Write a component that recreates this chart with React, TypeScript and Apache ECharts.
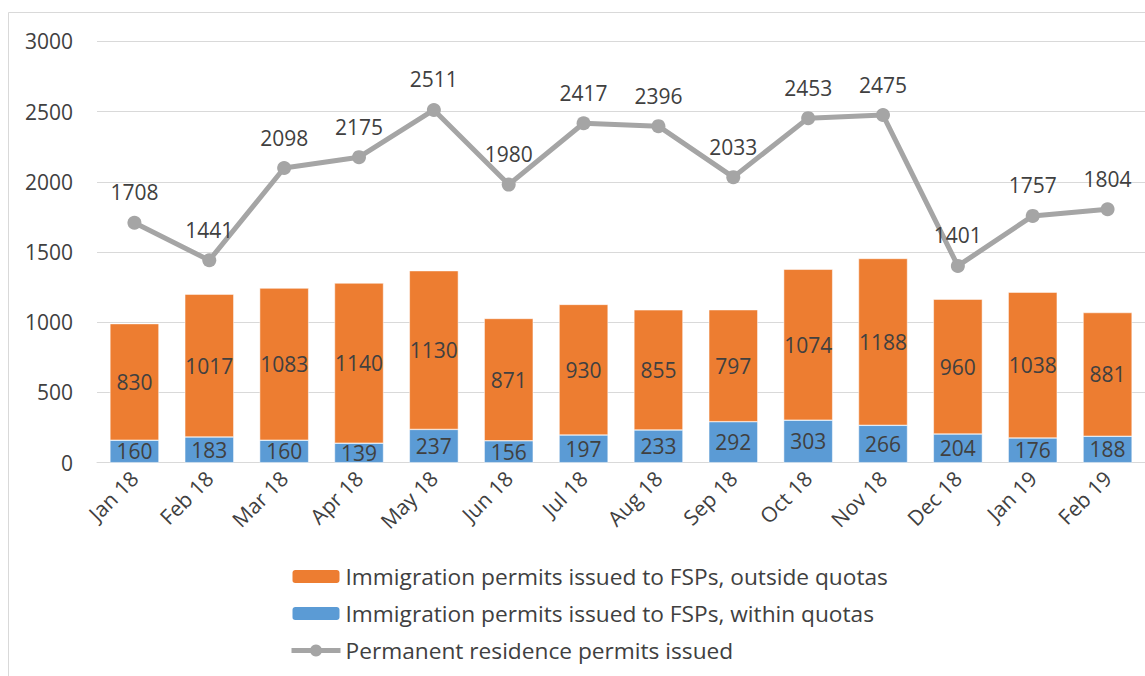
import React, { useEffect, useRef } from "react";
import * as echarts from "echarts";

const categories = ["Jan 18", "Feb 18", "Mar 18", "Apr 18", "May 18", "Jun 18", "Jul 18", "Aug 18", "Sep 18", "Oct 18", "Nov 18", "Dec 18", "Jan 19", "Feb 19"];
const withinQuotas = [160, 183, 160, 139, 237, 156, 197, 233, 292, 303, 266, 204, 176, 188];
const outsideQuotas = [830, 1017, 1083, 1140, 1130, 871, 930, 855, 797, 1074, 1188, 960, 1038, 881];
const permanentResidence = [1708, 1441, 2098, 2175, 2511, 1980, 2417, 2396, 2033, 2453, 2475, 1401, 1757, 1804];

const FONT = "Open Sans";
const TEXT = "#404040";

export default function App() {
  const ref = useRef<HTMLDivElement>(null);
  useEffect(() => {
    const chart = echarts.init(ref.current!, null, { renderer: "svg" });
    chart.setOption({
      animation: false,
      backgroundColor: "#ffffff",
      textStyle: { fontFamily: FONT, color: TEXT },
      graphic: [
        {
          type: "rect",
          shape: { x: 8.5, y: 12.5, width: 1200, height: 700 },
          style: { fill: "none", stroke: "#d9d9d9", lineWidth: 1 },
          silent: true,
          z: -10,
        },
      ],
      grid: { left: 97, right: 0, top: 41.3, bottom: 213.3 },
      legend: {
        orient: "vertical",
        left: 284,
        top: 560,
        itemWidth: 49,
        itemHeight: 15,
        itemGap: 14,
        data: [
          { name: "Immigration permits issued to FSPs, outside quotas" },
          { name: "Immigration permits issued to FSPs, within quotas" },
          { name: "Permanent residence permits issued", lineStyle: { width: 5 } },
        ],
        textStyle: { fontFamily: FONT, fontSize: 22.7, color: TEXT, lineHeight: 20 },
      },
      xAxis: {
        type: "category",
        data: categories,
        axisLine: { lineStyle: { color: "#d9d9d9", width: 1 } },
        axisTick: { show: false },
        axisLabel: { rotate: 45, fontSize: 21, color: TEXT, fontFamily: FONT, margin: 12 },
      },
      yAxis: {
        type: "value",
        min: 0,
        max: 3000,
        interval: 500,
        axisLine: { show: false },
        axisTick: { show: false },
        splitLine: { lineStyle: { color: "#d9d9d9", width: 1 } },
        axisLabel: { fontSize: 21, color: TEXT, fontFamily: FONT, margin: 24, formatter: (v: number) => String(v) },
      },
      series: [
        {
          name: "Immigration permits issued to FSPs, within quotas",
          type: "bar",
          stack: "permits",
          data: withinQuotas,
          barWidth: 49,
          itemStyle: { color: "#5B9BD5", borderColor: "#ffffff", borderWidth: 0.5 },
          label: { show: true, position: "inside", fontSize: 21, color: TEXT, fontFamily: FONT },
        },
        {
          name: "Immigration permits issued to FSPs, outside quotas",
          type: "bar",
          stack: "permits",
          data: outsideQuotas,
          barWidth: 49,
          itemStyle: { color: "#ED7D31", borderColor: "#ffffff", borderWidth: 0.5 },
          label: { show: true, position: "inside", fontSize: 21, color: TEXT, fontFamily: FONT },
        },
        {
          name: "Permanent residence permits issued",
          type: "line",
          data: permanentResidence,
          symbol: "circle",
          symbolSize: 14,
          lineStyle: { color: "#A5A5A5", width: 5 },
          itemStyle: { color: "#A5A5A5" },
          label: { show: true, position: "top", distance: 13, fontSize: 21, color: TEXT, fontFamily: FONT },
          z: 5,
        },
      ],
    });
    return () => chart.dispose();
  }, []);
  return <div ref={ref} style={{ position: "absolute", left: 0, top: 0, width: 1145, height: 676 }} />;
}
